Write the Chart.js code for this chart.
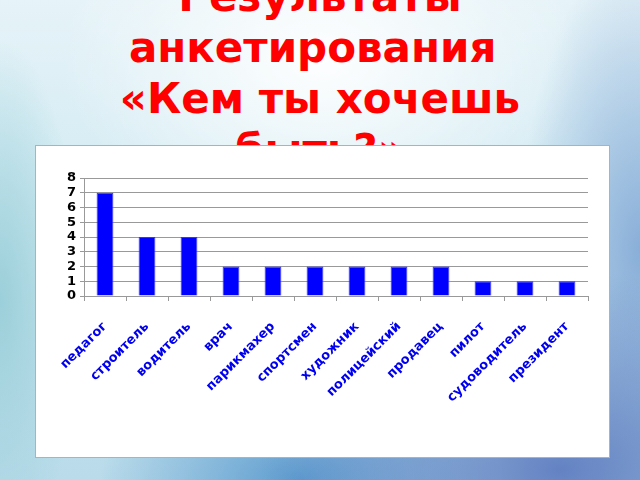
<!DOCTYPE html>
<html>
<head>
<meta charset="utf-8">
<script src="https://cdn.jsdelivr.net/npm/chart.js@4.4.0/dist/chart.umd.min.js"></script>
<style>
  html, body { margin:0; padding:0; width:640px; height:480px; overflow:hidden; }
  body {
    position:relative;
    background:
      radial-gradient(ellipse 260px 180px at 320px 60px, rgba(255,255,255,0.95), rgba(255,255,255,0) 100%),
      radial-gradient(ellipse 300px 200px at 560px 470px, rgba(90,120,190,0.9), rgba(90,120,190,0) 100%),
      radial-gradient(ellipse 200px 120px at 300px 480px, rgba(70,140,200,0.8), rgba(70,140,200,0) 100%),
      radial-gradient(ellipse 120px 300px at 640px 250px, rgba(120,160,210,0.8), rgba(120,160,210,0) 100%),
      radial-gradient(ellipse 80px 260px at 0px 300px, rgba(150,205,215,0.9), rgba(150,205,215,0) 100%),
      linear-gradient(180deg, #e6f3f8 0%, #d3ebf3 40%, #b9dbea 100%);
  }
  #title {
    position:absolute; left:0; top:-29px; width:640px; text-align:center;
    font-family:"DejaVu Sans", sans-serif; font-weight:bold; font-size:42px;
    line-height:51px; color:#ff0000; z-index:1; white-space:nowrap;
  }
  #box {
    position:absolute; left:35px; top:145px; width:573px; height:311px;
    background:#ffffff; border:1px solid #a8b4bc; z-index:2;
  }
  #wrap { position:absolute; left:0; top:0; width:573px; height:311px; }
</style>
</head>
<body>
<div id="title">Результаты<br>анкетирования&nbsp;<br>«Кем ты хочешь<br>быть?»</div>
<div id="box"><div id="wrap"><canvas id="c"></canvas></div></div>
<script>
const categories = ["педагог","строитель","водитель","врач","парикмахер","спортсмен","художник","полицейский","продавец","пилот","судоводитель","президент"];
const counts = [7,4,4,2,2,2,2,2,2,1,1,1];
const yTicks = [0,1,2,3,4,5,6,7,8];

new Chart(document.getElementById('c'), {
  type: 'bar',
  data: {
    labels: categories,
    datasets: [{
      data: counts,
      backgroundColor: '#0000ff',
      borderColor: '#3333ff',
      borderWidth: 1,
      barPercentage: 0.4,
      categoryPercentage: 1.0
    }]
  },
  options: {
    responsive: true,
    maintainAspectRatio: false,
    animation: false,
    layout: { padding: { left: 0, right: 21, top: 32, bottom: 43 } },
    plugins: { legend: { display: false }, tooltip: { enabled: false }, title: { display: false } },
    scales: {
      x: {
        offset: true,
        grid: { drawOnChartArea: false, drawTicks: true, tickLength: 5, color: '#999999', offset: true },
        border: { color: '#999999' },
        ticks: {
          color: '#0000ee',
          font: { family: 'DejaVu Sans', weight: 'bold', size: 13 },
          minRotation: 45, maxRotation: 45, padding: 18, autoSkip: false
        }
      },
      y: {
        min: yTicks[0], max: yTicks[yTicks.length - 1],
        afterFit: (s) => { s.width = 48; },
        afterBuildTicks: (s) => { s.ticks = yTicks.map(v => ({ value: v })); },
        grid: { color: '#999999', tickLength: 4 },
        border: { color: '#999999' },
        ticks: {
          stepSize: 1, autoSkip: false, color: '#000000', padding: 4,
          font: { family: 'DejaVu Sans', weight: 'bold', size: 13 }
        }
      }
    }
  }
});
</script>
</body>
</html>
